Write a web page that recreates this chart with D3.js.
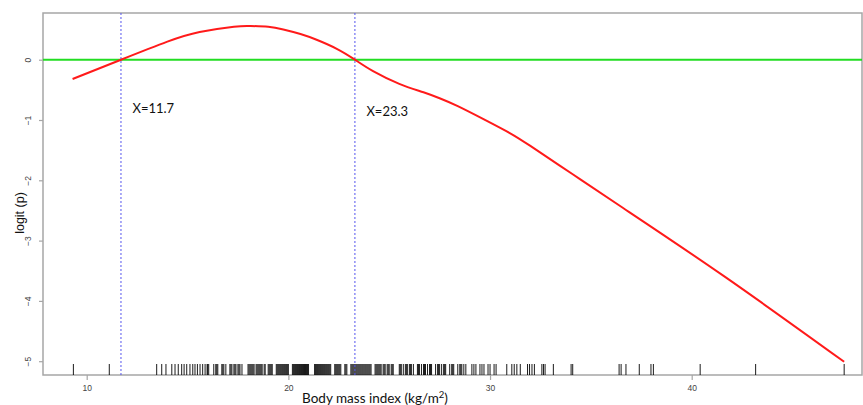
<!DOCTYPE html>
<html>
<head>
<meta charset="utf-8">
<script src="https://cdn.jsdelivr.net/npm/d3@7"></script>
<style>
  html, body { margin: 0; padding: 0; background: #fff; }
  svg { display: block; }
</style>
</head>
<body>
<svg id="chart" width="863" height="405"></svg>
<script>
// Fitted spline of logit(p) against body mass index
const curveBmi   = [9.3, 11.7, 14.0, 15.6, 17.3, 18.1, 19.0, 19.75, 20.6, 21.4, 22.4, 23.3, 24.2, 25.5, 26.7, 27.5, 28.4, 29.7, 31.0, 32.0, 34.1, 36.6, 41.6, 47.56];
const curveLogit = [-0.32, 0, 0.30, 0.46, 0.548, 0.56, 0.545, 0.50, 0.425, 0.33, 0.18, 0, -0.19, -0.40, -0.54, -0.64, -0.77, -0.99, -1.22, -1.43, -1.90, -2.46, -3.59, -5.01];

// Cut points where the curve crosses zero
const cutPoints = [11.7, 23.3];
const cutLabels = ["X=11.7", "X=23.3"];

// Axis ticks
const xTicks = [10, 20, 30, 40];
const yTicks = [0, -1, -2, -3, -4, -5];

// Observed BMI values (rug)
const rugBmi = [
  9.34, 11.12, 13.47, 13.72, 13.93, 14.22, 14.38, 14.54, 14.71, 14.83, 14.96, 15.12, 15.26, 15.37, 15.49, 15.62, 15.75, 15.87, 15.97,
  16.0, 16.05, 16.3, 16.4, 16.45, 16.5, 16.7, 16.75, 16.8, 16.9, 17.1, 17.15, 17.2, 17.3, 17.35, 17.4, 17.5, 17.55, 17.6, 17.7,
  18.0, 18.05, 18.1, 18.15, 18.2, 18.25, 18.3, 18.4, 18.45, 18.5, 18.55, 18.6, 18.65, 18.7, 18.8, 18.85,
  19.0, 19.05, 19.1, 19.15, 19.2, 19.4, 19.45, 19.5, 19.55, 19.6, 19.65, 19.7, 19.75, 19.8, 19.85, 19.9, 19.95, 20.0,
  20.2, 20.25, 20.3, 20.35, 20.4, 20.45, 20.5, 20.55, 20.6, 20.65, 20.7, 20.75, 20.8, 20.85, 20.9, 20.95, 21.0,
  21.3, 21.35, 21.4, 21.45, 21.5, 21.55, 21.6, 21.65, 21.7, 21.75, 21.8, 21.85, 21.9, 21.95, 22.0, 22.05, 22.1,
  22.3, 22.35, 22.4, 22.45, 22.5, 22.55, 22.6, 22.8, 22.85, 22.9, 23.1, 23.15, 23.2, 23.25, 23.3, 23.35, 23.4, 23.45, 23.5,
  23.55, 23.6, 23.65, 23.7, 23.75, 23.8, 23.85, 23.9, 23.95, 24.0, 24.05, 24.1, 24.3, 24.35, 24.4, 24.45, 24.5, 24.55, 24.6,
  24.7, 24.75, 24.8, 24.9, 24.95, 25.0, 25.1, 25.15, 25.2, 25.5, 25.55, 25.6, 25.7, 25.8, 25.85, 25.9, 26.0, 26.05, 26.1, 26.2,
  26.4, 26.45, 26.5, 26.6, 26.7, 26.75, 26.8, 26.9, 27.0, 27.05, 27.1, 27.3, 27.4, 27.45, 27.5, 27.6, 27.7, 27.75, 27.8,
  28.0, 28.1, 28.15, 28.2, 28.4, 28.5, 28.55, 28.6, 28.7, 28.8, 29.1, 29.2, 29.3, 29.5, 29.6, 29.7, 29.9, 30.0, 30.2, 30.3,
  30.83, 31.08, 31.2, 31.33, 31.5, 31.86, 31.96, 32.08, 32.2, 32.57, 32.65, 32.73, 33.14, 34.02, 34.1,
  36.4, 36.5, 36.74, 37.4, 37.98, 38.1, 40.42, 43.17, 47.56
];

const svg = d3.select("#chart");

const plot = { left: 43, right: 862, top: 13, bottom: 375 };

// x: 10 -> 86.7px, 40 -> 691.7px
const x = d3.scaleLinear()
  .domain([10, 40])
  .range([86.7, 691.7]);

// y: 0 -> 59.7px, -5 -> 361.2px
const y = d3.scaleLinear()
  .domain([0, -5])
  .range([59.7, 361.2]);

const frameColor = "#a6a6a6";

// Frame box
svg.append("rect")
  .attr("x", plot.left)
  .attr("y", plot.top)
  .attr("width", plot.right - plot.left)
  .attr("height", plot.bottom - plot.top)
  .attr("fill", "none")
  .attr("stroke", frameColor)
  .attr("stroke-width", 1.5);

// X axis ticks and labels
const xAxis = d3.axisBottom(x)
  .tickValues(xTicks)
  .tickSize(5)
  .tickSizeOuter(0)
  .tickFormat(d3.format("d"));

const gx = svg.append("g")
  .attr("transform", `translate(0,${plot.bottom})`)
  .call(xAxis);
gx.select(".domain").remove();
gx.selectAll(".tick line").attr("stroke", frameColor).attr("stroke-width", 1.2);
gx.selectAll(".tick text")
  .attr("font-family", "Liberation Sans, Arial, sans-serif")
  .attr("font-size", 8.5)
  .attr("fill", "#444")
  .attr("dy", "0.9em");

// Y axis ticks and rotated labels
const yAxis = d3.axisLeft(y)
  .tickValues(yTicks)
  .tickSize(4)
  .tickSizeOuter(0)
  .tickFormat(d3.format("d"));

const gy = svg.append("g")
  .attr("transform", `translate(${plot.left},0)`)
  .call(yAxis);
gy.select(".domain").remove();
gy.selectAll(".tick line").attr("stroke", frameColor).attr("stroke-width", 1.2);
gy.selectAll(".tick text")
  .attr("font-family", "Liberation Sans, Arial, sans-serif")
  .attr("font-size", 8.5)
  .attr("fill", "#444")
  .attr("x", 0)
  .attr("dy", 0)
  .attr("text-anchor", "middle")
  .attr("transform", "translate(-12,0) rotate(-90)");

// Rug of observed values along the bottom
svg.append("g")
  .selectAll("line")
  .data(rugBmi)
  .join("line")
  .attr("x1", d => x(d))
  .attr("x2", d => x(d))
  .attr("y1", plot.bottom)
  .attr("y2", plot.bottom - 11)
  .attr("stroke", "#000")
  .attr("stroke-width", 0.9);

// Reference line at logit = 0
svg.append("line")
  .attr("x1", plot.left)
  .attr("x2", plot.right)
  .attr("y1", y(0))
  .attr("y2", y(0))
  .attr("stroke", "#22dd22")
  .attr("stroke-width", 2);

// Dashed vertical lines at the cut points
svg.append("g")
  .selectAll("line")
  .data(cutPoints)
  .join("line")
  .attr("x1", d => x(d))
  .attr("x2", d => x(d))
  .attr("y1", plot.top)
  .attr("y2", plot.bottom)
  .attr("stroke", "#5555ee")
  .attr("stroke-width", 1)
  .attr("stroke-dasharray", "2,2");

// Spline curve
const pts = curveBmi.map((b, i) => [b, curveLogit[i]]);
const line = d3.line()
  .x(d => x(d[0]))
  .y(d => y(d[1]))
  .curve(d3.curveNatural);

svg.append("path")
  .datum(pts)
  .attr("d", line)
  .attr("fill", "none")
  .attr("stroke", "#ff1a1a")
  .attr("stroke-width", 2);

// Cut point labels
svg.append("g")
  .selectAll("text")
  .data(cutPoints)
  .join("text")
  .attr("x", d => x(d) + 11.5)
  .attr("y", (d, i) => i === 0 ? 113 : 116)
  .attr("font-family", "Lato, 'Open Sans', sans-serif")
  .attr("font-size", 13)
  .attr("fill", "#111")
  .text((d, i) => cutLabels[i]);

// Axis titles
svg.append("text")
  .attr("transform", "translate(24,213) rotate(-90)")
  .attr("text-anchor", "middle")
  .attr("font-family", "Liberation Sans, Arial, sans-serif")
  .attr("font-size", 12.5)
  .attr("fill", "#111")
  .text("logit (p)");

const xt = svg.append("text")
  .attr("x", 375)
  .attr("y", 403)
  .attr("text-anchor", "middle")
  .attr("font-family", "Lato, 'Open Sans', sans-serif")
  .attr("font-size", 13.5)
  .attr("fill", "#111");
xt.append("tspan").text("Body mass index (kg/m");
xt.append("tspan").attr("dy", -5).attr("font-size", 9.5).text("2");
xt.append("tspan").attr("dy", 5).text(")");
</script>
</body>
</html>
